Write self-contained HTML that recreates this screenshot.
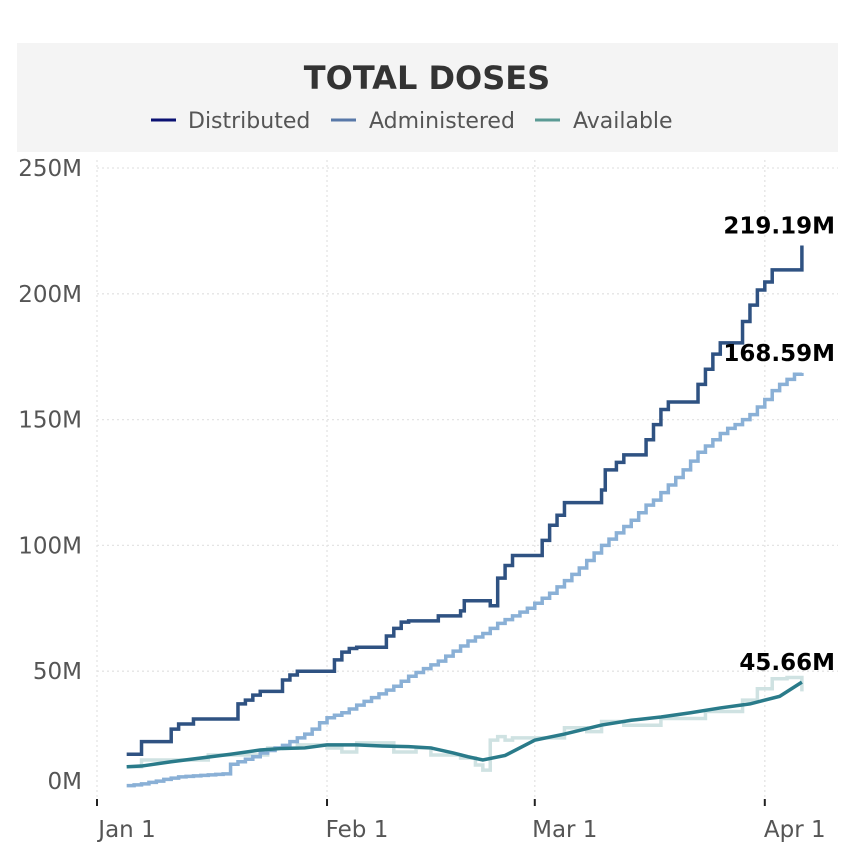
<!DOCTYPE html>
<html><head><meta charset="utf-8"><style>
body{margin:0;background:#fff;font-family:"DejaVu Sans","Liberation Sans",sans-serif}
text{font-family:"DejaVu Sans","Liberation Sans",sans-serif}
</style></head><body>
<svg width="854" height="856" xmlns="http://www.w3.org/2000/svg" id="c">
<rect x="17" y="43" width="821" height="109" fill="#f4f4f4"/>
<text x="427" y="89" text-anchor="middle" font-size="32" font-weight="bold" fill="#333">TOTAL DOSES</text>
<g font-size="22" fill="#555">
<g><line x1="151" y1="120" x2="176" y2="120" stroke="#0a1172" stroke-width="3"/><text x="188" y="128">Distributed</text></g>
<g><line x1="331" y1="120" x2="356" y2="120" stroke="#5878a8" stroke-width="3"/><text x="369" y="128">Administered</text></g>
<g><line x1="535" y1="120" x2="560" y2="120" stroke="#5a9a94" stroke-width="3"/><text x="573" y="128">Available</text></g>
</g>
<g id="axes"></g><g id="marks"></g>
</svg>
<script>
const tickLabelsY=["0M","50M","100M","150M","200M","250M"];
const tickValsY=[0,50,100,150,200,250];
const tickDaysX=[0,31,59,90];
const tickLabelsX=["Jan 1","Feb 1","Mar 1","Apr 1"];
const distDays=[4,6,10,11,13,19,20,21,22,25,26,27,32,33,34,35,39,40,41,42,46,49,49.5,53,54,55,56,60,61,62,63,68,68.5,70,71,74,75,76,77,81,82,83,84,87,88,89,90,91,95];
const distVals=[17,22,27,29,31,37,38.5,40.5,42,46.5,48.5,50,54.5,57.6,59,59.5,64,67,69.5,70,72,74,78,76,87,92,96,102,108,112,117,122,130,133,136,142,148,154,157,164,170,176,180.5,189,195.5,201.5,204.7,209.5,219.19];
const adminDays=[4,5,6,7,8,9,10,11,12,13,14,15,16,17,18,19,20,21,22,23,24,25,26,27,28,29,30,31,32,33,34,35,36,37,38,39,40,41,42,43,44,45,46,47,48,49,50,51,52,53,54,55,56,57,58,59,60,61,62,63,64,65,66,67,68,69,70,71,72,73,74,75,76,77,78,79,80,81,82,83,84,85,86,87,88,89,90,91,92,93,94,95];
const adminVals=[4.5,4.8,5.2,5.8,6.3,7,7.5,8,8.2,8.4,8.6,8.8,9,9.2,13,14,15,16,17.5,18.5,19.5,20.5,22,23.5,25,27,29.5,31.5,32.5,33.5,35,36.5,38,39.5,41,42.5,44,46,48,49.5,51,52.5,54,56,58,60,62,63.6,65,67,69,70.5,72,73.5,75,77,79,81,83.5,86,88.5,91,94,97,100,102.5,105,107.5,110,113,116,118,121,124,127,130,133.5,137,139.5,142,144.5,146.5,148,150,152,155,158,161.5,164,166,168,168.59];
const availDays=[4,6,10,14,18,22,25,28,31,35,38,42,45,48,50,52,55,59,63,68,72,76,80,84,88,92,95];
const availVals=[12,12.3,14,15.5,17,18.7,19.3,19.5,20.7,20.7,20.3,20,19.5,17.5,16,14.7,16.5,22.6,25,28.6,30.5,31.8,33.5,35.4,37,40,45.66];
const rawDays=[4,6,11,15,18,23,27,31,33,35,39,40,43,45,49,51,52,53,54,55,56,59,63,66,68,71,76,82,87,89,91,93,95];
const rawVals=[12,14.7,14.7,16.7,16.7,19.5,20.7,19.5,17.9,21.5,21.5,17.9,19.5,16.7,15.5,12.7,10.7,22.6,24,22.6,23.5,23.5,27.5,26,30,28.5,31.2,34,38.5,43,47,47.5,42];
const X=d=>97+d*7.42, Y=v=>797-v*2.516;
const ns="http://www.w3.org/2000/svg";
const axes=document.getElementById('axes'), marks=document.getElementById('marks');
function mk(t,a,p){const e=document.createElementNS(ns,t);for(const k in a)e.setAttribute(k,a[k]);p.appendChild(e);return e;}
tickValsY.forEach((v,i)=>{
  if(v>0){const g=mk('line',{x1:97,x2:838,y1:Y(v),y2:Y(v),stroke:'#e4e4e4','stroke-width':1.3,'stroke-dasharray':'2,3'},axes);
  
  }
  const t=mk('text',{x:82,y:(v===0?781:Y(v))+8,'text-anchor':'end','font-size':23,fill:'#555'},axes);
  t.textContent=tickLabelsY[i];
  
  
});
tickDaysX.forEach((d,i)=>{
  const g=mk('line',{x1:X(d),x2:X(d),y1:160,y2:797,stroke:'#e4e4e4','stroke-width':1.3,'stroke-dasharray':'2,3'},axes);
  
  
  const tk=mk('line',{x1:X(d),x2:X(d),y1:799,y2:806,stroke:'#222','stroke-width':2},axes);
  
  
  const t=mk('text',{x:X(d)+30,y:837,'text-anchor':'middle','font-size':23,fill:'#555'},axes);
  t.textContent=tickLabelsX[i];
  
  
});
function stepPath(ds,vs){let p='M'+X(ds[0])+','+Y(vs[0]);for(let i=1;i<ds.length;i++){p+='H'+X(ds[i])+'V'+Y(vs[i]);}return p;}
function linePath(ds,vs){return ds.map((d,i)=>(i?'L':'M')+X(d)+','+Y(vs[i])).join('');}
const s1=mk('path',{d:stepPath(rawDays,rawVals),fill:'none',stroke:'#cfe2e2','stroke-width':3.5},marks);


const s2=mk('path',{d:stepPath(adminDays,adminVals),fill:'none',stroke:'#8ab0d6','stroke-width':3.5},marks);


const s3=mk('path',{d:linePath(availDays,availVals),fill:'none',stroke:'#2a7b8a','stroke-width':3.5},marks);


const s4=mk('path',{d:stepPath(distDays,distVals),fill:'none',stroke:'#2f5282','stroke-width':3.5},marks);


[[distVals,'distributed-annotation'],[adminVals,'administered-annotation'],[availVals,'available-annotation']].forEach(([vs,n])=>{
  const v=vs[vs.length-1];
  const t=mk('text',{x:835,y:Y(v)-12,'text-anchor':'end','font-size':23,'font-weight':'bold',fill:'#000'},marks);
  t.textContent=v.toFixed(2)+'M';
  
  
});
</script>
</body></html>
